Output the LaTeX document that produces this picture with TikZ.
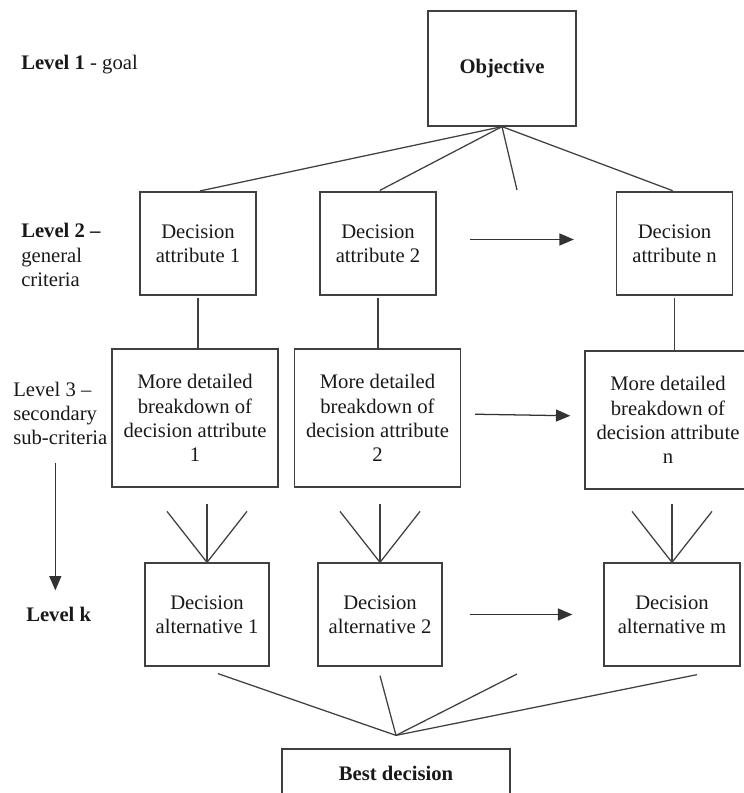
\documentclass[tikz,border=0pt]{standalone}
\usepackage{fontspec}
\setmainfont{Liberation Serif}
\usepackage{tikz}
\usetikzlibrary{arrows.meta, positioning, calc}
\newcommand{\diagfont}{\fontsize{14.7}{17.2}\selectfont}
\tikzset{
  crit/.style={rectangle, draw=black!75, line width=0.9pt, align=center,
               inner sep=0pt, font=\diagfont, text=black!90},
  goal/.style={crit, font=\diagfont\bfseries},
  levlabel/.style={align=left, anchor=west, inner sep=0pt, font=\diagfont,
                   text=black!90},
  link/.style={draw=black!75, line width=0.9pt},
  arrow/.style={-{Triangle[length=0.36cm, width=0.3cm]}, draw=black!80,
                line width=0.9pt},
}

\begin{document}
\begin{tikzpicture}
  \useasboundingbox (0,0) rectangle (18.575,-19.825);

  % Level labels
  \node[levlabel] (lev1) at (0.525,-1.625) {\textbf{Level 1} - goal};
  \node[levlabel] (lev2) at (0.525,-6.375) {\textbf{Level 2 –}\\general\\criteria};
  \node[levlabel] (lev3) at (0.325,-10.34) {Level 3 –\\secondary\\sub-criteria};
  \node[levlabel] (levk) at (0.65,-15.35) {\textbf{Level k}};

  % Goal
  \node[goal, minimum width=3.7cm, minimum height=2.875cm] (obj) at (12.55,-1.7125) {Objective};

  % General criteria
  \node[crit, minimum width=2.9cm, minimum height=2.575cm] (attr1) at (4.95,-6.0875) {Decision\\attribute 1};
  \node[crit, minimum width=2.9cm, minimum height=2.575cm] (attr2) at (9.45,-6.0875) {Decision\\attribute 2};
  \node[crit, minimum width=2.9cm, minimum height=2.575cm] (attrn) at (16.8625,-6.0875) {Decision\\attribute n};

  % Sub-criteria
  \node[crit, minimum width=4.15cm, minimum height=3.45cm] (sub1) at (4.875,-10.45) {More detailed\\breakdown of\\decision attribute\\1};
  \node[crit, minimum width=4.15cm, minimum height=3.45cm] (sub2) at (9.4375,-10.45) {More detailed\\breakdown of\\decision attribute\\2};
  \node[crit, minimum width=4.15cm, minimum height=3.45cm] (subn) at (16.7,-10.5) {More detailed\\breakdown of\\decision attribute\\n};

  % Alternatives
  \node[crit, minimum width=3.1cm, minimum height=2.575cm] (alt1) at (5.175,-15.3625) {Decision\\alternative 1};
  \node[crit, minimum width=3.1cm, minimum height=2.575cm] (alt2) at (9.5,-15.3625) {Decision\\alternative 2};
  \node[crit, minimum width=3.4cm, minimum height=2.575cm] (altm) at (16.8,-15.3625) {Decision\\alternative m};

  % Result
  \node[goal, minimum width=5.7cm, minimum height=1.2cm] (best) at (9.9,-19.325) {Best decision};

  % Objective fan
  \foreach \n in {attr1, attr2, attrn}
    \draw[link, shorten >=0.05cm] (obj.south) -- (\n.north);
  \coordinate (gap2) at (12.925,-4.75);
  \draw[link] (obj.south) -- (gap2);

  % Criteria to sub-criteria
  \foreach \a/\s in {attr1/sub1, attr2/sub2, attrn/subn}
    \draw[link, shorten <=0.05cm] (\a.south) -- (\a.south |- \s.north);

  % Sub-criteria fans
  \foreach \a in {alt1, alt2, altm} {
    \draw[link] ([shift={(-1,1.275)}]\a.north) -- (\a.north) -- ([shift={(1,1.275)}]\a.north);
    \draw[link] ([yshift=1.45cm]\a.north) -- (\a.north);
  }

  % Fan to best decision
  \coordinate[above=0.325cm of best.north] (join);
  \coordinate (gapk) at (12.925,-16.85);
  \draw[link] ([shift={(0.275,-0.175)}]alt1.south) -- (join);
  \draw[link] ([yshift=-0.225cm]alt2.south) -- (join);
  \draw[link] (gapk) -- (join);
  \draw[link] ([shift={(0.625,-0.2)}]altm.south) -- (join);

  % Continuation arrows
  \draw[arrow, shorten <=0.825cm, shorten >=1.05cm] ([yshift=0.1cm]attr2.east) -- ([yshift=0.1cm]attrn.west);
  \draw[arrow, shorten <=0.35cm, shorten >=0.35cm] ([yshift=0.1cm]sub2.east) -- ([yshift=0.1cm]subn.west);
  \draw[arrow, shorten <=0.675cm, shorten >=0.775cm] (alt2.east) -- (altm.west);

  % Level arrow
  \coordinate (levtop) at ([xshift=-0.125cm, yshift=-0.45cm]lev3.south);
  \draw[arrow, shorten >=0.4cm] (levtop) -- (levtop |- levk.north);
\end{tikzpicture}
\end{document}
